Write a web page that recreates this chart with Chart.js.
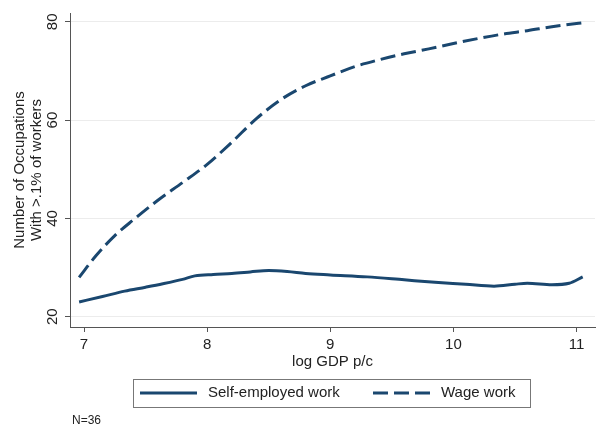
<!DOCTYPE html>
<html>
<head>
<meta charset="utf-8">
<script src="https://cdn.jsdelivr.net/npm/chart.js@4.4.0/dist/chart.umd.min.js"></script>
<style>
    html, body { margin: 0; padding: 0; background: #fff; }
    #chart-box { width: 596px; height: 432px; }
</style>
</head>
<body>
<div id="chart-box"><canvas id="occupations-chart"></canvas></div>
<script>
// values
var x_ticks = [7, 8, 9, 10, 11];
var y_ticks = [20, 40, 60, 80];

var self_gdp = [6.96, 7.15, 7.33, 7.5, 7.64, 7.8, 7.9, 8.05, 8.2, 8.35, 8.5, 8.65, 8.8, 9.0, 9.3, 9.6, 9.85, 10.1, 10.33, 10.5, 10.6, 10.8, 10.94, 11.05];
var self_occupations = [23.0, 24.1, 25.2, 26.0, 26.7, 27.6, 28.3, 28.6, 28.8, 29.1, 29.4, 29.2, 28.8, 28.5, 28.1, 27.5, 27.0, 26.6, 26.2, 26.6, 26.8, 26.5, 26.8, 28.1];

var wage_gdp = [6.96, 7.1, 7.25, 7.4, 7.6, 7.8, 8.0, 8.2, 8.4, 8.6, 8.8, 9.0, 9.2, 9.4, 9.6, 9.8, 10.0, 10.2, 10.4, 10.6, 10.8, 10.95, 11.05];
var wage_occupations = [28.0, 32.5, 36.5, 39.7, 43.7, 47.3, 51.0, 55.5, 60.3, 64.2, 67.0, 69.0, 70.9, 72.3, 73.5, 74.5, 75.6, 76.6, 77.5, 78.2, 79.0, 79.5, 79.8];

var series_labels = ["Self-employed work", "Wage work"];
var x_title = "log GDP p/c";
var y_title = ["Number of Occupations", "With >.1% of workers"];
var note_text = "N=36";

const LINE_COLOR = "#1a476f";
const TEXT_COLOR = "#222";
const AXIS_COLOR = "#555";
const FONT_FAMILY = "'Liberation Sans', Arial, sans-serif";

window.addEventListener("load", () => {
    renderChart();
});

function toPoints(xs, ys) {
    return xs.map((x, i) => { return { x: x, y: ys[i] } });
}

// stata style bits: rotated y labels, boxed legend, footnote
const stata_extras = {
    id: "stataExtras",
    afterDraw(chart) {
        const ctx = chart.ctx;
        const y_scale = chart.scales.y;

        ctx.save();
        ctx.fillStyle = TEXT_COLOR;
        ctx.font = "15px " + FONT_FAMILY;
        ctx.textAlign = "center";
        ctx.textBaseline = "middle";

        y_scale.ticks.forEach((tick) => {
            ctx.save();
            ctx.translate(53, y_scale.getPixelForValue(tick.value));
            ctx.rotate(-Math.PI / 2);
            ctx.fillText(String(tick.value), 0, 0);
            ctx.restore();
        });

        ctx.strokeStyle = "#777";
        ctx.lineWidth = 1;
        ctx.strokeRect(133.5, 379.5, 397, 28);

        const samples = [[140, 197, 208], [373, 431, 441]];
        chart.data.datasets.forEach((ds, i) => {
            const s = samples[i];
            ctx.save();
            ctx.strokeStyle = ds.borderColor;
            ctx.lineWidth = ds.borderWidth;
            ctx.setLineDash(ds.borderDash || []);
            ctx.beginPath();
            ctx.moveTo(s[0], 393);
            ctx.lineTo(s[1], 393);
            ctx.stroke();
            ctx.restore();
            ctx.textAlign = "left";
            ctx.fillText(ds.label, s[2], 393);
        });

        ctx.font = "12px " + FONT_FAMILY;
        ctx.textAlign = "left";
        ctx.fillText(note_text, 72, 421);
        ctx.restore();
    }
};

function renderChart() {
    const chart_ctx = document.getElementById("occupations-chart");

    new Chart(chart_ctx, {
        type: "line",
        data: {
            datasets: [{
                label: series_labels[0],
                data: toPoints(self_gdp, self_occupations),
                borderColor: LINE_COLOR,
                borderWidth: 3,
                pointRadius: 0,
                cubicInterpolationMode: "monotone",
                fill: false
            }, {
                label: series_labels[1],
                data: toPoints(wage_gdp, wage_occupations),
                borderColor: LINE_COLOR,
                borderWidth: 3,
                borderDash: [15, 6],
                pointRadius: 0,
                cubicInterpolationMode: "monotone",
                fill: false
            }]
        },
        options: {
            animation: false,
            responsive: true,
            maintainAspectRatio: false,
            devicePixelRatio: 1,
            layout: { padding: { left: 0, right: 1, top: 13, bottom: 61 } },
            plugins: {
                legend: { display: false },
                tooltip: { enabled: false }
            },
            scales: {
                x: {
                    type: "linear",
                    min: 6.886,
                    max: 11.15,
                    afterBuildTicks: (s) => { s.ticks = x_ticks.map((v) => { return { value: v } }); },
                    afterFit: (s) => { s.height = 44; },
                    grid: { drawOnChartArea: false, tickLength: 5, tickColor: AXIS_COLOR },
                    border: { color: AXIS_COLOR },
                    ticks: { padding: 4, color: TEXT_COLOR, maxRotation: 0, font: { family: FONT_FAMILY, size: 15 } },
                    title: {
                        display: true,
                        text: x_title,
                        color: TEXT_COLOR,
                        padding: 0,
                        font: { family: FONT_FAMILY, size: 15, lineHeight: 1.2 }
                    }
                },
                y: {
                    type: "linear",
                    min: 17.9,
                    max: 81.8,
                    afterBuildTicks: (s) => { s.ticks = y_ticks.map((v) => { return { value: v } }); },
                    afterFit: (s) => { s.width = 70; },
                    grid: { color: "#ececec", tickLength: 5, tickColor: AXIS_COLOR },
                    border: { color: AXIS_COLOR },
                    ticks: { display: false },
                    title: {
                        display: true,
                        text: y_title,
                        color: TEXT_COLOR,
                        padding: { top: 12, bottom: 0 },
                        font: { family: FONT_FAMILY, size: 15, lineHeight: 1.1 }
                    }
                }
            }
        },
        plugins: [stata_extras]
    });
}
</script>
</body>
</html>
